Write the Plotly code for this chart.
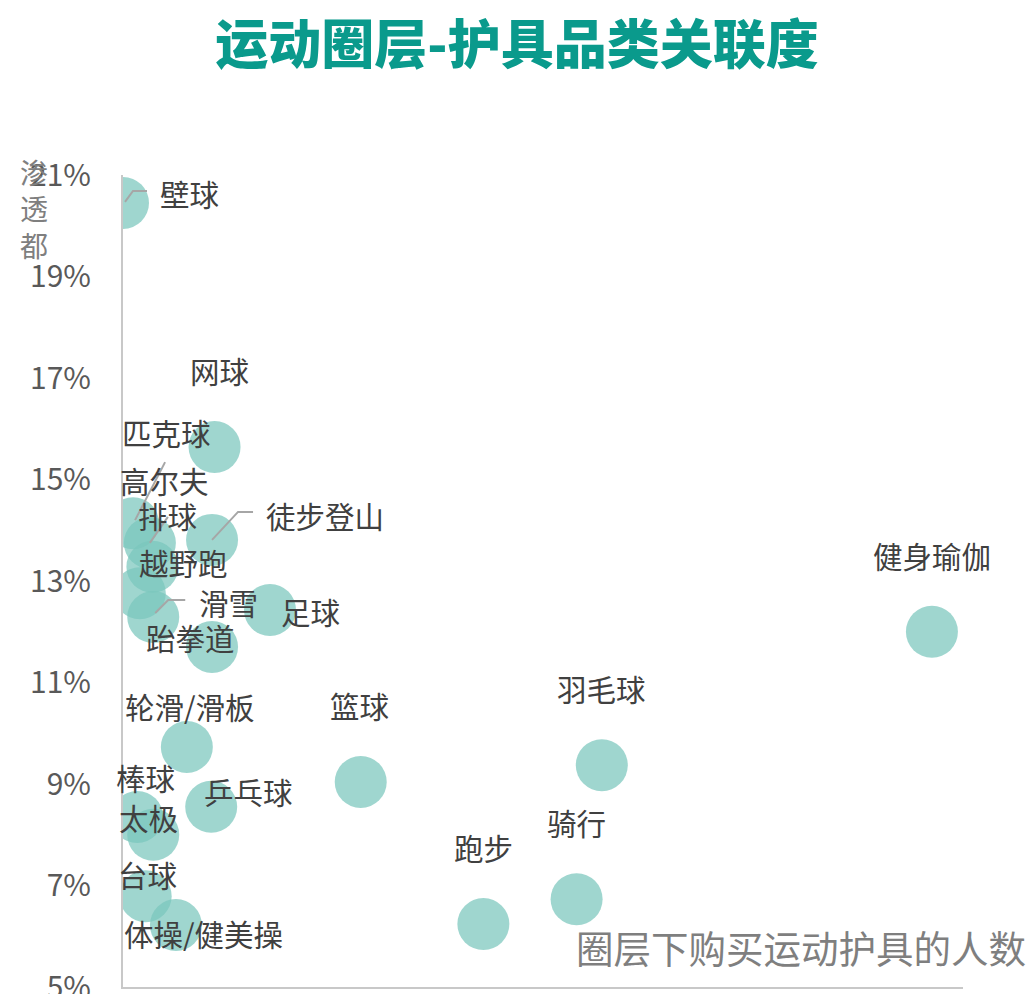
import plotly.graph_objects as go

# ---- data ----
sports = ["壁球", "网球", "匹克球", "高尔夫", "徒步登山", "排球", "越野跑", "滑雪", "足球", "跆拳道",
          "健身瑜伽", "轮滑/滑板", "篮球", "羽毛球", "乒乓球", "棒球", "太极", "台球", "体操/健美操",
          "骑行", "跑步"]
buyers = [0.0, 10.9, 1.2, 3.2, 10.6, 3.5, 2.0, 3.6, 17.5, 10.6,
          96.3, 7.6, 28.3, 57.0, 10.5, 1.7, 3.6, 2.7, 6.3,
          54.0, 42.9]
penetration = [20.45, 15.64, 14.14, 13.75, 13.81, 13.28, 12.76, 12.29, 12.43, 11.70,
               12.00, 9.73, 9.04, 9.37, 8.55, 8.35, 8.00, 6.79, 6.22,
               6.73, 6.24]
y_ticks = [5, 7, 9, 11, 13, 15, 17, 19, 21]

# ---- label placement (pixel offsets from bubble centre, screen coords) ----
label_offsets = {
    "壁球": (66, -10), "网球": (5, -77), "匹克球": (33, -91), "高尔夫": (15, -63),
    "徒步登山": (113, -25), "排球": (15, -52), "越野跑": (44, -31), "滑雪": (75, -15),
    "足球": (40, 1), "跆拳道": (-22, -10), "健身瑜伽": (0, -77), "轮滑/滑板": (3, -41),
    "篮球": (-1, -77), "羽毛球": (0, -77), "乒乓球": (37, -16), "棒球": (8, -40),
    "太极": (-5, -18), "台球": (2, -22), "体操/健美操": (28, 8), "骑行": (0, -77),
    "跑步": (0, -77),
}
leader_paths = {
    "壁球": [(2, -1), (10, -12), (24, -12)],
    "匹克球": [(2, -3), (32, -61)],
    "高尔夫": [(0, 0), (18, -26)],
    "徒步登山": [(0, 0), (26, -28), (41, -28)],
    "滑雪": [(2, -4), (15, -17), (32, -17)],
}

FONT = "Noto Sans CJK SC"
W, H = 1034, 994
L, R, T, B = 123, 71, 175, 7

fig = go.Figure()
fig.add_trace(go.Scatter(
    x=buyers, y=penetration, mode="markers",
    marker=dict(size=52, color="rgba(122,198,188,0.72)", line=dict(width=0)),
    hovertext=sports, hoverinfo="text", showlegend=False,
))

annotations = []
shapes = []
for name, xv, yv in zip(sports, buyers, penetration):
    dx, dy = label_offsets[name]
    annotations.append(dict(
        x=xv, y=yv, xref="x", yref="y", text=name, showarrow=False,
        xshift=dx, yshift=-dy, xanchor="center", yanchor="middle",
        font=dict(family=FONT, size=29.5, color="#404040"),
    ))
    if name in leader_paths:
        pts = leader_paths[name]
        path = "M" + " L".join(f"{px},{-py}" for px, py in pts)
        shapes.append(dict(
            type="path", xref="x", yref="y", xsizemode="pixel", ysizemode="pixel",
            xanchor=xv, yanchor=yv, path=path,
            line=dict(color="#a6a6a6", width=2),
        ))

plot_w = W - L - R
plot_h = H - T - B
# x-axis title
annotations.append(dict(
    x=(1028 - L) / plot_w, y=(H - B - 946) / plot_h, xref="paper", yref="paper",
    text="圈层下购买运动护具的人数", showarrow=False, xanchor="right", yanchor="middle",
    font=dict(family=FONT, size=37.5, color="#7f7f7f"),
))
# y-axis title (stacked)
annotations.append(dict(
    x=(34 - L) / plot_w, y=(H - B - 208) / plot_h, xref="paper", yref="paper",
    text="渗<br>透<br>都", showarrow=False, xanchor="center", yanchor="middle",
    font=dict(family=FONT, size=28, color="#7f7f7f"),
))

fig.update_layout(
    width=W, height=H,
    margin=dict(l=L, r=R, t=T, b=B, pad=0, autoexpand=False),
    plot_bgcolor="white", paper_bgcolor="white",
    title=dict(text="运动圈层-护具品类关联度", x=0.5, xref="container",
               y=1 - 45 / H, yref="container", xanchor="center", yanchor="middle",
               font=dict(family=FONT, size=53, color="#0A9A8C", weight=900)),
    xaxis=dict(range=[0, 100], showline=True, linecolor="#c8c8c8", linewidth=2,
               showgrid=False, zeroline=False, showticklabels=False, ticks="",
               automargin=False),
    yaxis=dict(range=[5, 21], tickvals=y_ticks, ticktext=[f"{v}%" for v in y_ticks],
               showline=True, linecolor="#c8c8c8", linewidth=2, showgrid=False,
               zeroline=False, ticks="", ticklabelstandoff=24, ticklabeloverflow="allow",
               automargin=False,
               tickfont=dict(family=FONT, size=30, color="#595959")),
    annotations=annotations, shapes=shapes,
)

fig.write_html("out.html")
